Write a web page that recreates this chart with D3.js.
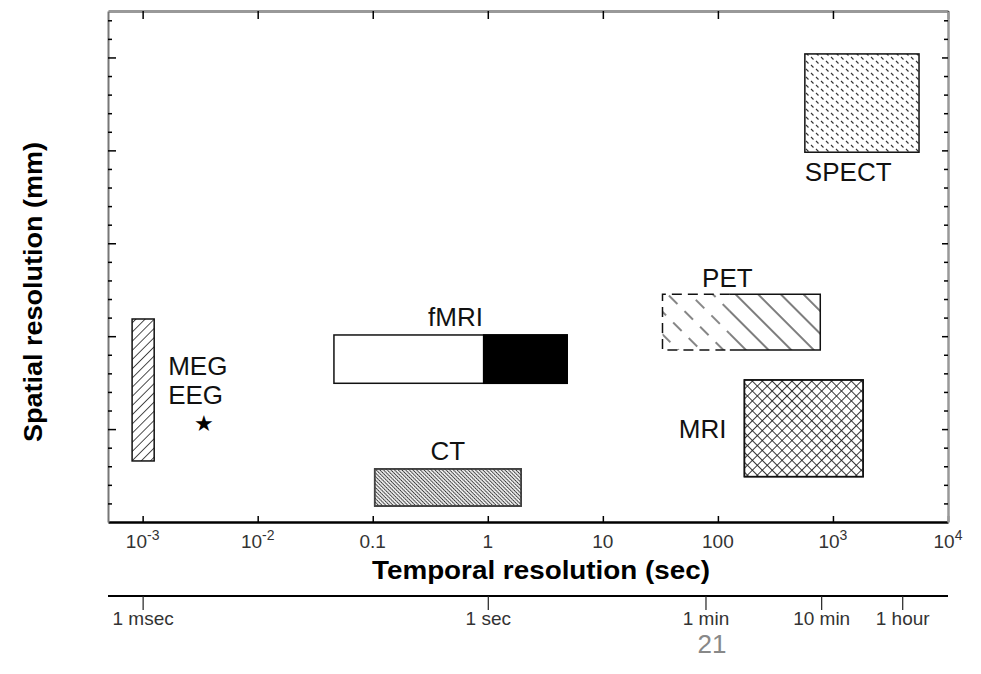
<!DOCTYPE html>
<html>
<head>
<meta charset="utf-8">
<script src="https://cdn.jsdelivr.net/npm/d3@7"></script>
<style>
	body { margin: 0; background: #fff; }
	svg { display: block; font-family: 'Liberation Sans', Arial, sans-serif; }
</style>
</head>
<body>
<svg></svg>
<script>
const width = 981;
const height = 674;

// temporal resolution (sec) is log, spatial axis is unlabeled in the source
const xTicks = [1e-3, 1e-2, 0.1, 1, 10, 100, 1e3, 1e4];
const xTickBase = ['10', '10', '0.1', '1', '10', '100', '10', '10'];
const xTickExp = ['-3', '-2', '', '', '', '', '3', '4'];
const yMajor = [1, 2, 3, 4, 5];

const modalities = ['MEG/EEG', 'fMRI', 'CT', 'PET', 'MRI', 'SPECT'];
const tMin = [8.1e-4, 0.046, 0.104, 33, 170, 570];
const tMax = [1.26e-3, 4.9, 1.95, 776, 1830, 5600];
const sMin = [0.657, 1.493, 0.172, 1.851, 0.488, 3.98];
const sMax = [2.185, 2.013, 0.571, 2.451, 1.529, 5.038];
const fmriSplit = 0.92; // white part / black part
const petSolidFrom = 127; // PET outline goes from dashed to solid
const eegStar = [0.0034, 1.066];

const timeLabels = ['1 msec', '1 sec', '1 min', '10 min', '1 hour'];
const timeValues = [0.001, 1, 78, 790, 4000];

const svg = d3.select('svg').attr('width', width).attr('height', height);

const x = d3.scaleLog().domain([5e-4, 1e4]).range([108, 948]);
const y = d3.scaleLinear().domain([0, 5.5]).range([522, 11]);

const defs = svg.append('defs');

function hatch(id, spacing, angle, stroke, sw, dash) {
	const p = defs
		.append('pattern')
		.attr('id', id)
		.attr('patternUnits', 'userSpaceOnUse')
		.attr('width', spacing)
		.attr('height', 10)
		.attr('patternTransform', `rotate(${angle})`);
	p.append('line')
		.attr('x1', spacing / 2)
		.attr('x2', spacing / 2)
		.attr('y1', 0)
		.attr('y2', 10)
		.attr('stroke', stroke)
		.attr('stroke-width', sw)
		.attr('stroke-dasharray', dash || null);
}

hatch('megHatch', 6.5, 45, '#333', 0.9);
hatch('ctHatch', 2.6, -45, '#333', 1);
hatch('ctHatch2', 3.2, 45, '#bbb', 0.6);
hatch('mriA', 7, 45, '#222', 0.9);
hatch('mriB', 7, -45, '#222', 0.9);
hatch('petSolid', 16, -45, '#111', 1.1);
defs.append('pattern')
	.attr('id', 'petDash')
	.attr('patternUnits', 'userSpaceOnUse')
	.attr('width', 16)
	.attr('height', 22)
	.attr('patternTransform', 'rotate(-45)')
	.append('line')
	.attr('x1', 8)
	.attr('x2', 8)
	.attr('y1', 0)
	.attr('y2', 12)
	.attr('stroke', '#222')
	.attr('stroke-width', 1.1);

// SPECT: staggered short dashes
const sp = defs
	.append('pattern')
	.attr('id', 'spectDots')
	.attr('patternUnits', 'userSpaceOnUse')
	.attr('width', 10)
	.attr('height', 8);
sp.append('path').attr('d', 'M1,1 L3.5,3.5 M6,5 L8.5,7.5').attr('stroke', '#333').attr('stroke-width', 1.1);

const g = svg.append('g');

// axes frame
const yMinor = d3.range(0.2, 5.5, 0.2).filter((v) => Math.abs(v - Math.round(v)) > 0.01);

g.append('g')
	.attr('transform', 'translate(0,522)')
	.call(d3.axisBottom(x).tickValues(xTicks).tickSizeInner(-6).tickSizeOuter(0).tickFormat(''))
	.call((a) => a.select('.domain').attr('stroke', '#000').attr('stroke-width', 2.5));

g.append('g')
	.attr('transform', 'translate(0,11)')
	.call(d3.axisTop(x).tickValues(xTicks).tickSizeInner(-8).tickSizeOuter(0).tickFormat(''))
	.call((a) => a.select('.domain').attr('stroke', '#999').attr('stroke-width', 3));

g.append('g')
	.attr('transform', 'translate(108,0)')
	.call(d3.axisLeft(y).tickValues(yMinor).tickSizeInner(-4).tickSizeOuter(0).tickFormat(''))
	.call((a) => a.select('.domain').attr('stroke', '#777').attr('stroke-width', 2));
g.append('g')
	.attr('transform', 'translate(108,0)')
	.call(d3.axisLeft(y).tickValues(yMajor).tickSizeInner(-8).tickSizeOuter(0).tickFormat(''))
	.call((a) => a.select('.domain').remove());

g.append('g')
	.attr('transform', 'translate(948,0)')
	.call(d3.axisRight(y).tickValues(yMinor).tickSizeInner(-4).tickSizeOuter(0).tickFormat(''))
	.call((a) => a.select('.domain').attr('stroke', '#999').attr('stroke-width', 2.5));
g.append('g')
	.attr('transform', 'translate(948,0)')
	.call(d3.axisRight(y).tickValues(yMajor).tickSizeInner(-6).tickSizeOuter(0).tickFormat(''))
	.call((a) => a.select('.domain').remove());

g.selectAll('.tick line').attr('stroke-width', 1.5);

// x tick labels with superscripts
const xl = g
	.append('g')
	.selectAll('text')
	.data(xTicks)
	.join('text')
	.attr('x', (d) => x(d))
	.attr('y', 548)
	.attr('text-anchor', 'middle')
	.attr('font-size', 19)
	.attr('fill', '#333');
xl.append('tspan').text((d, i) => xTickBase[i]);
xl.append('tspan')
	.attr('dy', -8)
	.attr('font-size', 14)
	.text((d, i) => xTickExp[i]);

g.append('text')
	.attr('x', 541)
	.attr('y', 579)
	.attr('text-anchor', 'middle')
	.attr('font-size', 25)
	.attr('font-weight', 'bold')
	.attr('textLength', 338)
	.attr('lengthAdjust', 'spacingAndGlyphs')
	.text('Temporal resolution (sec)');

g.append('text')
	.attr('transform', 'translate(42,292) rotate(-90)')
	.attr('text-anchor', 'middle')
	.attr('font-size', 25)
	.attr('font-weight', 'bold')
	.attr('textLength', 300)
	.attr('lengthAdjust', 'spacingAndGlyphs')
	.text('Spatial resolution (mm)');

// boxes
function box(i, fill) {
	return g
		.append('rect')
		.attr('x', x(tMin[i]))
		.attr('y', y(sMax[i]))
		.attr('width', x(tMax[i]) - x(tMin[i]))
		.attr('height', y(sMin[i]) - y(sMax[i]))
		.attr('fill', fill)
		.attr('stroke', '#111')
		.attr('stroke-width', 1.5);
}

box(0, 'url(#megHatch)');

box(1, '#fff');
g.append('rect')
	.attr('x', x(fmriSplit))
	.attr('y', y(sMax[1]))
	.attr('width', x(tMax[1]) - x(fmriSplit))
	.attr('height', y(sMin[1]) - y(sMax[1]))
	.attr('fill', '#000')
	.attr('stroke', '#000')
	.attr('stroke-width', 1.5);

box(2, 'url(#ctHatch)');
box(2, 'url(#ctHatch2)').attr('stroke', '#444');

box(4, 'url(#mriA)');
box(4, 'url(#mriB)');
box(5, 'url(#spectDots)');

// PET: dashed at the short-time end, solid afterwards
const pTop = y(sMax[3]);
const pBot = y(sMin[3]);
const pL = x(tMin[3]);
const pM = x(petSolidFrom);
const pR = x(tMax[3]);
g.append('rect').attr('x', pL).attr('y', pTop).attr('width', pM - pL).attr('height', pBot - pTop).attr('fill', 'url(#petDash)');
g.append('rect').attr('x', pM).attr('y', pTop).attr('width', pR - pM).attr('height', pBot - pTop).attr('fill', 'url(#petSolid)');
g.append('path')
	.attr('d', `M${pM},${pTop} H${pL} V${pBot} H${pM}`)
	.attr('fill', 'none')
	.attr('stroke', '#111')
	.attr('stroke-width', 1.5)
	.attr('stroke-dasharray', '10,6');
g.append('path')
	.attr('d', `M${pM},${pTop} H${pR} V${pBot} H${pM}`)
	.attr('fill', 'none')
	.attr('stroke', '#111')
	.attr('stroke-width', 1.5);

// labels
const lab = (tx, ty, s, anchor) =>
	g
		.append('text')
		.attr('x', tx)
		.attr('y', ty)
		.attr('text-anchor', anchor || 'middle')
		.attr('font-size', 26)
		.attr('fill', '#111')
		.text(s);

lab(x(tMax[0]) + 14, 375, 'MEG', 'start');
lab(x(tMax[0]) + 14, 404, 'EEG', 'start');
lab((x(tMin[1]) + x(tMax[1])) / 2 + 5, y(sMax[1]) - 9, 'fMRI');
lab((x(tMin[2]) + x(tMax[2])) / 2, y(sMax[2]) - 9, 'CT');
lab((x(tMin[3]) + x(tMax[3])) / 2 - 14, y(sMax[3]) - 7, 'PET');
lab(x(tMin[4]) - 18, (y(sMin[4]) + y(sMax[4])) / 2 + 10, 'MRI', 'end');
lab(x(tMin[5]), y(sMin[5]) + 29, 'SPECT', 'start');

g.append('text')
	.attr('x', x(eegStar[0]))
	.attr('y', y(eegStar[1]) + 8)
	.attr('text-anchor', 'middle')
	.attr('font-size', 22)
	.attr('fill', '#000')
	.text('\u2605');

// human time scale underneath
const ta = g
	.append('g')
	.attr('transform', 'translate(0,596)')
	.call(d3.axisBottom(x).tickValues(timeValues).tickSize(14).tickSizeOuter(0).tickFormat((d, i) => timeLabels[i]));
ta.select('.domain').attr('d', `M${x.range()[0]},0H${x.range()[1]}`).attr('stroke', '#000').attr('stroke-width', 2);
ta.selectAll('.tick line').attr('stroke', '#222').attr('stroke-width', 1.2);
ta.selectAll('.tick text').attr('font-size', 19).attr('fill', '#333').attr('y', 16).attr('dy', '0.71em').attr('font-family', "'Liberation Sans', Arial, sans-serif");

// slide page number
g.append('text')
	.attr('x', 712)
	.attr('y', 653)
	.attr('text-anchor', 'middle')
	.attr('font-size', 26)
	.attr('fill', '#888')
	.text('21');
</script>
</body>
</html>
